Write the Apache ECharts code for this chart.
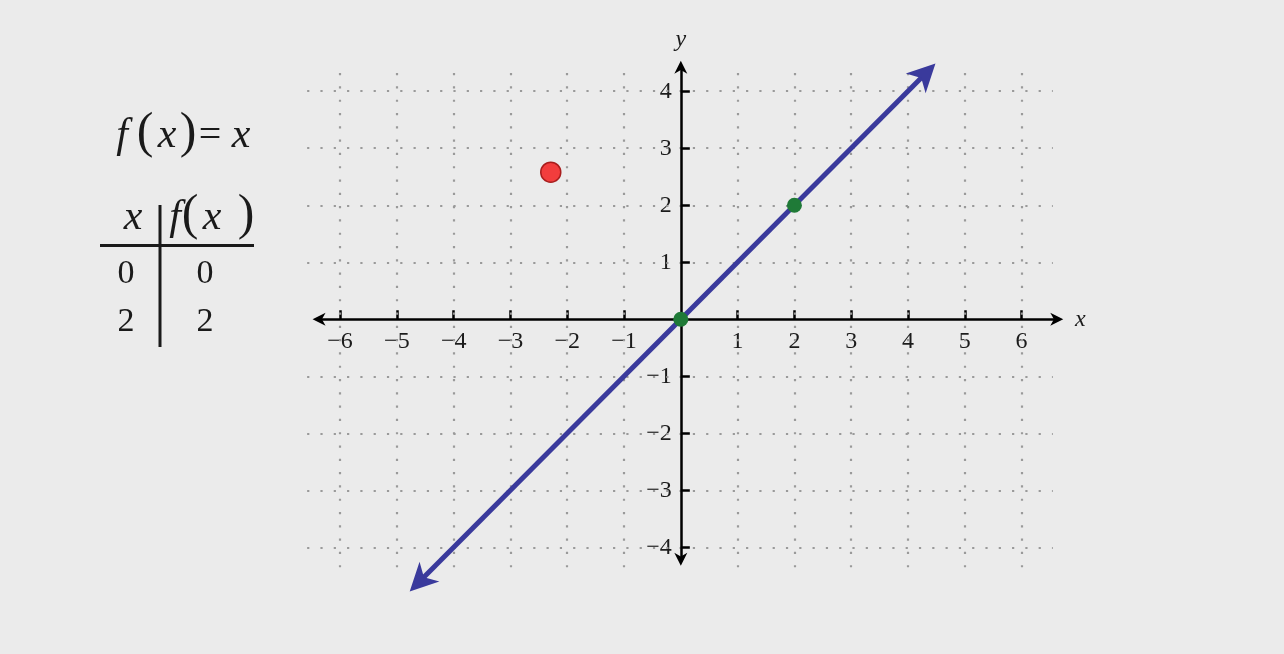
<!DOCTYPE html>
<html>
<head>
<meta charset="utf-8">
<script src="https://cdn.jsdelivr.net/npm/echarts@6/dist/echarts.min.js"></script>
<style>
  html, body { margin: 0; padding: 0; background: #ebebeb; }
  #chart { width: 1284px; height: 654px; }
</style>
</head>
<body>
<div id="chart"></div>
<script>
// ---- data ----
const xTicks = [-6, -5, -4, -3, -2, -1, 1, 2, 3, 4, 5, 6];
const yTicks = [-4, -3, -2, -1, 1, 2, 3, 4];
const tableX = [0, 2];
const tableFx = [0, 2];
const lineXs = [-4.6, 4.31];   // ends of the drawn part of f(x) = x
const lineYs = [-4.6, 4.31];
const redPoint = [[-2.29, 2.58]];

// ---- styles / layout ----
const SERIF = '"Liberation Serif", "DejaVu Serif", serif';
const arrowPath = 'path://M5,0L10.5,10L5,7.2L-0.5,10Z';
const X_RANGE = [-6.6, 6.8];
const Y_RANGE = [-4.8, 4.6];
const G = { left: 306, top: 57, width: 761, height: 536 };
const gridX = [-6.58, 6.55];
const gridY = [-4.35, 4.35];
const axisXEnds = [-6.37, 6.62];
const axisYEnds = [-4.21, 4.42];
// pixel distance from grid edge to the zero lines (so axes ride on zero)
const xAxisShift = -G.height * (0 - Y_RANGE[0]) / (Y_RANGE[1] - Y_RANGE[0]);
const yAxisShift = -G.width * (0 - X_RANGE[0]) / (X_RANGE[1] - X_RANGE[0]);

const fmt = v => (v < 0 ? '\u2212' + Math.abs(v) : String(v));

const gridLines = [];
xTicks.forEach(x => gridLines.push([{ coord: [x, gridY[0]] }, { coord: [x, gridY[1]] }]));
yTicks.forEach(y => gridLines.push([{ coord: [gridX[0], y] }, { coord: [gridX[1], y] }]));

function glyph(text, x, y, size, italic) {
  return {
    type: 'text', x: x, y: y, silent: true,
    style: {
      text: text, fill: '#1a1a1a',
      font: (italic ? 'italic ' : '') + size + 'px ' + SERIF,
      align: 'center', verticalAlign: 'middle'
    }
  };
}

const graphics = [
  // formula f(x) = x
  glyph('f', 122, 136, 42, true),
  glyph('(', 145, 134, 50, false),
  glyph('x', 167, 136, 42, true),
  glyph(')', 188, 134, 50, false),
  glyph('=', 210, 136, 40, false),
  glyph('x', 241, 136, 42, true),
  // table header
  glyph('x', 133, 218, 42, true),
  glyph('f', 175, 218, 42, true),
  glyph('(', 190, 216, 50, false),
  glyph('x', 212, 218, 42, true),
  glyph(')', 246, 216, 50, false),
  // table rules
  { type: 'line', silent: true, shape: { x1: 100, y1: 245.5, x2: 254, y2: 245.5 }, style: { stroke: '#1a1a1a', lineWidth: 3 } },
  { type: 'line', silent: true, shape: { x1: 160, y1: 205, x2: 160, y2: 347 }, style: { stroke: '#1a1a1a', lineWidth: 3 } }
];
const rowY = [274, 322];
tableX.forEach((v, i) => {
  graphics.push(glyph(String(v), 126, rowY[i], 34, false));
  graphics.push(glyph(String(tableFx[i]), 205, rowY[i], 34, false));
});

const chart = echarts.init(document.getElementById('chart'));
chart.setOption({
  animation: false,
  backgroundColor: '#ebebeb',
  grid: G,
  xAxis: {
    type: 'value', min: X_RANGE[0], max: X_RANGE[1],
    position: 'bottom', offset: xAxisShift,
    name: 'x', nameLocation: 'end', nameGap: 8,
    nameTextStyle: { fontFamily: SERIF, fontStyle: 'italic', fontSize: 24, color: '#1a1a1a', verticalAlign: 'middle' },
    axisLine: { show: true, onZero: false, lineStyle: { color: 'rgba(0,0,0,0)' } },
    axisTick: { show: true, inside: true, length: 9, customValues: xTicks, lineStyle: { color: '#000', width: 2.5 } },
    axisLabel: { customValues: xTicks, formatter: fmt, fontFamily: SERIF, fontSize: 24, color: '#1c1c1c', margin: 10 },
    splitLine: { show: false }
  },
  yAxis: {
    type: 'value', min: Y_RANGE[0], max: Y_RANGE[1],
    position: 'left', offset: yAxisShift,
    name: 'y', nameLocation: 'end', nameGap: 5,
    nameTextStyle: { fontFamily: SERIF, fontStyle: 'italic', fontSize: 24, color: '#1a1a1a' },
    axisLine: { show: true, onZero: false, lineStyle: { color: 'rgba(0,0,0,0)' } },
    axisTick: { show: true, inside: true, length: 9, customValues: yTicks, lineStyle: { color: '#000', width: 2.5 } },
    axisLabel: { customValues: yTicks, formatter: fmt, fontFamily: SERIF, fontSize: 24, color: '#1c1c1c', margin: 9 },
    splitLine: { show: false }
  },
  graphic: graphics,
  series: [
    {
      name: 'grid', type: 'line', data: [], z: 1, clip: false, silent: true,
      markLine: {
        silent: true, symbol: 'none', animation: false,
        label: { show: false },
        lineStyle: { color: '#9a9a9a', width: 2.2, type: [2.2, 11.1], opacity: 1 },
        emphasis: { disabled: true },
        data: gridLines
      }
    },
    {
      name: 'axes', type: 'line', data: [], z: 3, clip: false, silent: true,
      markLine: {
        silent: true, symbol: [arrowPath, arrowPath], symbolSize: 13, animation: false,
        label: { show: false },
        lineStyle: { color: '#000', width: 2.5, type: 'solid', opacity: 1 },
        itemStyle: { color: '#000' },
        emphasis: { disabled: true },
        data: [
          [{ coord: [axisXEnds[0], 0] }, { coord: [axisXEnds[1], 0] }],
          [{ coord: [0, axisYEnds[0]] }, { coord: [0, axisYEnds[1]] }]
        ]
      }
    },
    {
      name: 'f(x)=x', type: 'line', data: [], z: 4, clip: false, silent: true,
      markLine: {
        silent: true, symbol: [arrowPath, arrowPath], symbolSize: 28, animation: false,
        label: { show: false },
        lineStyle: { color: '#3a3a9c', width: 5, type: 'solid', opacity: 1 },
        itemStyle: { color: '#3a3a9c' },
        emphasis: { disabled: true },
        data: [[{ coord: [lineXs[0], lineYs[0]] }, { coord: [lineXs[1], lineYs[1]] }]]
      }
    },
    {
      name: 'red', type: 'scatter', z: 5, silent: true,
      data: redPoint, symbolSize: 20,
      itemStyle: { color: '#f23d3d', borderColor: '#a91d1d', borderWidth: 1.5, opacity: 1 }
    },
    {
      name: 'table points', type: 'scatter', z: 6, silent: true,
      data: tableX.map((x, i) => [x, tableFx[i]]), symbolSize: 15,
      itemStyle: { color: '#1f7a37', opacity: 1 }
    }
  ]
});
</script>
</body>
</html>
